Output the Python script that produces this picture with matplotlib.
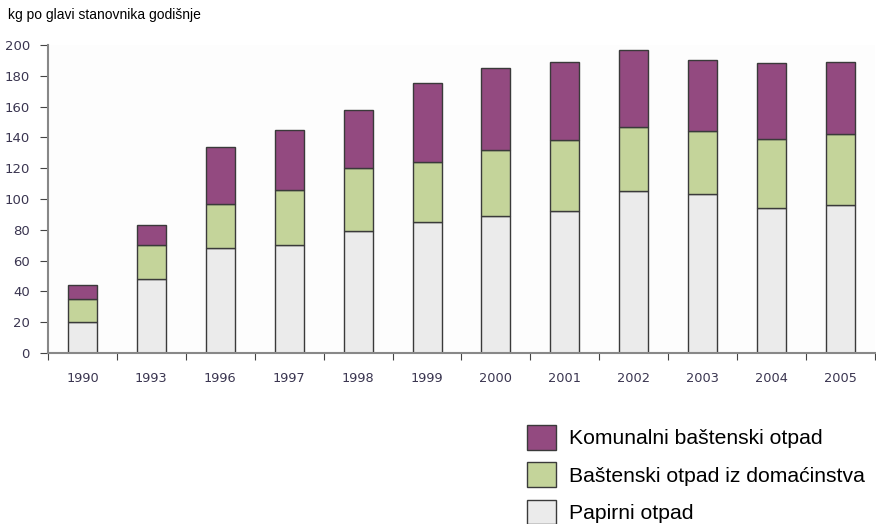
import matplotlib
matplotlib.use("Agg")
import matplotlib.pyplot as plt
import numpy as np

years = ["1990", "1993", "1996", "1997", "1998", "1999", "2000", "2001", "2002", "2003", "2004", "2005"]
papirni = [20, 48, 68, 70, 79, 85, 89, 92, 105, 103, 94, 96]
green_top = [35, 70, 97, 106, 120, 124, 132, 138, 147, 144, 139, 142]
total = [44, 83, 134, 145, 158, 175, 185, 189, 197, 190, 188, 189]
bastenski = [g - p for g, p in zip(green_top, papirni)]
komunalni = [t - g for t, g in zip(total, green_top)]

labels = ["Komunalni baštenski otpad", "Baštenski otpad iz domaćinstva", "Papirni otpad"]
colors = ["#934a80", "#c4d49a", "#ebebeb"]

W, H = 876, 524
fig = plt.figure(figsize=(W / 100, H / 100), dpi=100)
ax = fig.add_axes([48 / W, (H - 353) / H, (875 - 48) / W, (353 - 45) / H])

x = np.arange(len(years))
bw = 0.42
ec = "#3a3a3a"
b1 = ax.bar(x, papirni, bw, color=colors[2], edgecolor=ec, linewidth=1.0)
b2 = ax.bar(x, bastenski, bw, bottom=papirni, color=colors[1], edgecolor=ec, linewidth=1.0)
b3 = ax.bar(x, komunalni, bw, bottom=green_top, color=colors[0], edgecolor=ec, linewidth=1.0)

ax.set_xlim(-0.5, len(years) - 0.5)
ax.set_ylim(0, 200)
ax.set_yticks(range(0, 201, 20))
ax.set_xticks(np.arange(-0.5, len(years), 1.0))
ax.set_xticklabels([])
ax.set_xticks(x, minor=True)
ax.set_xticklabels(years, minor=True)
ax.tick_params(axis="x", which="minor", length=0, pad=14, labelsize=9.3, labelcolor="#3a3550")
ax.tick_params(axis="x", which="major", length=5, color="#444444")
ax.tick_params(axis="y", length=6, color="#444444", labelsize=9.5, labelcolor="#3a3550", pad=7)
for s in ["top", "right"]:
    ax.spines[s].set_visible(False)
ax.spines["left"].set_color("#888888")
ax.spines["bottom"].set_color("#888888")
ax.spines["left"].set_linewidth(1.5)
ax.spines["bottom"].set_linewidth(1.5)
ax.set_facecolor("#fdfdfd")

fig.text(8 / W, 1 - 15 / H, "kg po glavi stanovnika godišnje", fontsize=10,
         family="Liberation Sans", va="center", ha="left")

leg = fig.legend([b3, b2, b1], labels, loc="upper left",
                 bbox_to_anchor=(527 / W, 1 - 425 / H), frameon=False,
                 prop={"family": "Liberation Sans", "size": 15.2},
                 handlelength=1.37, handleheight=1.42, handletextpad=0.62,
                 labelspacing=0.6, borderaxespad=0, borderpad=0)

fig.savefig("out.png", dpi=100)
